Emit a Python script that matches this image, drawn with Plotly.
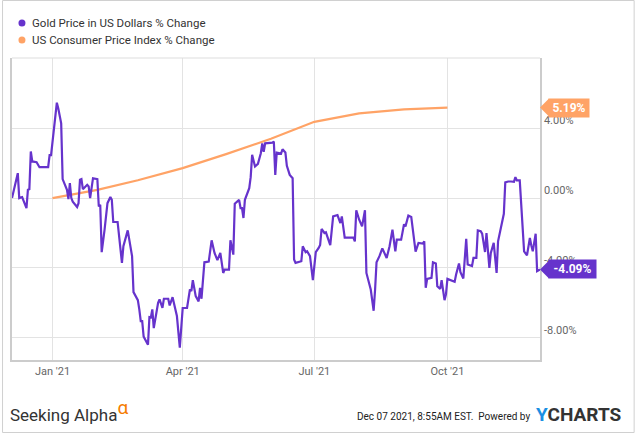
import plotly.graph_objects as go

# ---------------- data ----------------
gold_dates = [
    "2020-12-04", "2020-12-08", "2020-12-09", "2020-12-11", "2020-12-14", "2020-12-15", "2020-12-16",
    "2020-12-17", "2020-12-18", "2020-12-21", "2020-12-23", "2020-12-29", "2020-12-30", "2020-12-31",
    "2021-01-04", "2021-01-05", "2021-01-07", "2021-01-08", "2021-01-11", "2021-01-12", "2021-01-13",
    "2021-01-14", "2021-01-15", "2021-01-18", "2021-01-19", "2021-01-20", "2021-01-21", "2021-01-22",
    "2021-01-25", "2021-01-26", "2021-01-27", "2021-01-29", "2021-02-01", "2021-02-02", "2021-02-03",
    "2021-02-04", "2021-02-06", "2021-02-08", "2021-02-10", "2021-02-11", "2021-02-12", "2021-02-15",
    "2021-02-18", "2021-02-19", "2021-02-22", "2021-02-25", "2021-02-26", "2021-03-01", "2021-03-02",
    "2021-03-03", "2021-03-04", "2021-03-05", "2021-03-08", "2021-03-09", "2021-03-10", "2021-03-11",
    "2021-03-12", "2021-03-15", "2021-03-16", "2021-03-18", "2021-03-19", "2021-03-22", "2021-03-23",
    "2021-03-25", "2021-03-28", "2021-03-30", "2021-04-01", "2021-04-04", "2021-04-06", "2021-04-07",
    "2021-04-08", "2021-04-10", "2021-04-12", "2021-04-13", "2021-04-14", "2021-04-16", "2021-04-19",
    "2021-04-21", "2021-04-23", "2021-04-25", "2021-04-27", "2021-04-28", "2021-04-29", "2021-04-30",
    "2021-05-03", "2021-05-04", "2021-05-06", "2021-05-07", "2021-05-10", "2021-05-11", "2021-05-12",
    "2021-05-13", "2021-05-14", "2021-05-17", "2021-05-18", "2021-05-19", "2021-05-21", "2021-05-23",
    "2021-05-25", "2021-05-26", "2021-05-27", "2021-05-28", "2021-06-02", "2021-06-03", "2021-06-04",
    "2021-06-05", "2021-06-08", "2021-06-09", "2021-06-11", "2021-06-12", "2021-06-14", "2021-06-16",
    "2021-06-17", "2021-06-18", "2021-06-21", "2021-06-22", "2021-06-23", "2021-06-25", "2021-06-26",
    "2021-06-28", "2021-06-30", "2021-07-02", "2021-07-04", "2021-07-05", "2021-07-06", "2021-07-08",
    "2021-07-09", "2021-07-12", "2021-07-14", "2021-07-17", "2021-07-19", "2021-07-20", "2021-07-22",
    "2021-07-28", "2021-07-29", "2021-07-30", "2021-08-01", "2021-08-03", "2021-08-05", "2021-08-06",
    "2021-08-09", "2021-08-11", "2021-08-12", "2021-08-13", "2021-08-15", "2021-08-17", "2021-08-20",
    "2021-08-22", "2021-08-24", "2021-08-26", "2021-08-27", "2021-08-30", "2021-09-01", "2021-09-02",
    "2021-09-04", "2021-09-06", "2021-09-09", "2021-09-11", "2021-09-14", "2021-09-15", "2021-09-16",
    "2021-09-17", "2021-09-20", "2021-09-21", "2021-09-23", "2021-09-24", "2021-09-26", "2021-09-27",
    "2021-09-29", "2021-09-30", "2021-10-01", "2021-10-05", "2021-10-06", "2021-10-07", "2021-10-09",
    "2021-10-10", "2021-10-12", "2021-10-14", "2021-10-15", "2021-10-18", "2021-10-19", "2021-10-21",
    "2021-10-22", "2021-10-24", "2021-10-25", "2021-10-27", "2021-10-28", "2021-10-30", "2021-10-31",
    "2021-11-02", "2021-11-04", "2021-11-05", "2021-11-09", "2021-11-10", "2021-11-12", "2021-11-14",
    "2021-11-16", "2021-11-17", "2021-11-18", "2021-11-20", "2021-11-23", "2021-11-25", "2021-11-27",
    "2021-11-28", "2021-11-29", "2021-12-01", "2021-12-02", "2021-12-04",
]
gold_values = [
    0.00, 1.43, 0.00, 0.06, -0.57, 0.48, 0.51,
    2.67, 2.10, 2.06, 1.77, 1.77, 2.46, 2.46,
    5.47, 5.14, 4.29, 1.09, 0.48, -0.06, 0.86,
    0.00, -0.21, -0.51, -0.29, 1.05, 1.09, 0.51,
    0.76, 0.67, 0.00, 1.14, 1.09, -0.48, -0.38,
    -3.10, -1.81, -0.29, 0.06, -0.10, -1.37, -1.37,
    -3.71, -2.76, -1.85, -3.33, -5.39, -5.85, -6.38,
    -7.05, -7.05, -7.94, -8.40, -6.82, -6.84, -6.38,
    -7.45, -6.00, -5.81, -6.29, -5.77, -5.77, -6.15,
    -5.68, -6.76, -8.57, -6.30, -6.30, -5.24, -5.33,
    -4.70, -5.62, -5.92, -5.14, -5.77, -3.68, -3.64,
    -2.42, -3.14, -3.56, -3.14, -3.81, -4.29, -4.10,
    -4.10, -2.42, -3.24, -0.32, -0.10, -0.57, -0.57,
    -1.14, -0.10, 0.57, 1.20, 2.48, 1.81, 1.96,
    2.57, 3.14, 2.65, 3.14, 3.18, 3.24, 1.33,
    2.61, 2.55, 2.80, 2.61, 1.85, 1.33, 1.14,
    -3.52, -3.71, -3.64, -3.62, -2.76, -3.10, -3.05,
    -3.33, -4.70, -3.10, -2.86, -2.69, -1.77, -2.00,
    -1.96, -2.69, -1.05, -0.97, -1.43, -1.05, -2.27,
    -2.27, -2.48, -0.70, -1.24, -1.62, -0.70, -4.29,
    -5.24, -6.46, -5.24, -3.68, -3.33, -2.88, -3.43,
    -2.76, -1.81, -3.05, -2.38, -2.38, -1.50, -1.62,
    -1.00, -1.08, -3.07, -2.57, -2.61, -2.48, -5.14,
    -4.63, -4.57, -3.68, -3.75, -5.05, -5.20, -4.70,
    -5.85, -5.52, -4.63, -4.78, -4.80, -4.38, -3.75,
    -4.25, -4.61, -2.34, -3.81, -3.90, -3.43, -3.43,
    -1.85, -1.90, -2.04, -3.09, -2.00, -4.00, -3.14,
    -2.57, -4.29, -2.48, -0.90, 0.90, 0.95, 0.95,
    0.93, 1.20, 1.01, 1.01, -3.05, -3.28, -2.29,
    -2.72, -3.05, -2.04, -4.19, -4.09,
]

cpi_dates = ["2021-01-01", "2021-02-01", "2021-03-01", "2021-04-01", "2021-05-01",
             "2021-06-01", "2021-07-01", "2021-08-01", "2021-09-01", "2021-10-01"]
cpi_values = [0.00, 0.47, 1.02, 1.72, 2.52, 3.40, 4.37, 4.86, 5.09, 5.19]

series_names = ["Gold Price in US Dollars % Change", "US Consumer Price Index % Change"]
y_ticks = [-8, -4, 0, 4]
y_tick_labels = ["-8.00%", "-4.00%", "0.00%", "4.00%"]

# ---------------- style ----------------
PURPLE = "#6633cc"
ORANGE = "#ffa366"
FONT = "Roboto"

# plot area in pixels: left 10, right 540, top 58, bottom 360
def xp(px):
    return (px - 10) / 530.0

def yp(py):
    return (360 - py) / 302.0

fig = go.Figure()
fig.add_trace(go.Scatter(x=cpi_dates, y=cpi_values, mode="lines", name=series_names[1],
                         line=dict(color=ORANGE, width=2.2), showlegend=False, hoverinfo="skip"))
fig.add_trace(go.Scatter(x=gold_dates, y=gold_values, mode="lines", name=series_names[0],
                         line=dict(color=PURPLE, width=2.2), showlegend=False, hoverinfo="skip"))

fig.update_layout(
    width=635, height=433,
    margin=dict(l=10, r=95, t=58, b=73),
    paper_bgcolor="white", plot_bgcolor="white",
    font=dict(family=FONT, color="#666666", size=11),
    showlegend=False,
)
fig.update_xaxes(
    type="date",
    range=["2020-12-04", "2021-12-04"],
    tick0="2021-01-01", dtick="M3", tickformat="%b '%y",
    showgrid=True, gridcolor="#e3e3e3", gridwidth=1,
    showline=True, linecolor="#cccccc", linewidth=1.5, mirror=False,
    ticks="", tickfont=dict(size=11, color="#666666"),
    zeroline=False, fixedrange=True,
)
fig.update_yaxes(
    range=[-9.28, 8.03],
    side="right",
    tickmode="array", tickvals=y_ticks, ticktext=y_tick_labels,
    ticklabelposition="outside top",
    showgrid=True, gridcolor="#e3e3e3", gridwidth=1,
    showline=True, linecolor="#cccccc", linewidth=1.5, mirror=True,
    ticks="", tickfont=dict(size=11, color="#666666"),
    zeroline=False, fixedrange=True,
)

shapes = []
annotations = []

# top border of plot (light)
shapes.append(dict(type="line", xref="paper", yref="paper", x0=0, x1=1, y0=1, y1=1,
                   line=dict(color="#dddddd", width=1)))
# outer frame
shapes.append(dict(type="rect", xref="paper", yref="paper",
                   x0=xp(0.5), x1=xp(634.5), y0=yp(432.5), y1=yp(0.5),
                   line=dict(color="#d0d0d0", width=1), fillcolor="rgba(0,0,0,0)", layer="below"))

# legend (manual)
for name, col, py in [(series_names[0], PURPLE, 23), (series_names[1], ORANGE, 40)]:
    shapes.append(dict(type="circle", xref="paper", yref="paper",
                       xsizemode="pixel", ysizemode="pixel",
                       xanchor=xp(20), yanchor=yp(py),
                       x0=-3.5, x1=3.5, y0=-3.5, y1=3.5,
                       fillcolor=col, line=dict(width=0)))
    annotations.append(dict(text=name, xref="paper", yref="paper", x=xp(28), y=yp(py),
                            xanchor="left", yanchor="middle", showarrow=False,
                            font=dict(family=FONT, size=11.5, color="#333333")))

# end-value tags
for val, col, w in [(cpi_values[-1], ORANGE, 40), (gold_values[-1], PURPLE, 47)]:
    shapes.append(dict(type="path", xref="paper", yref="y",
                       xsizemode="pixel", ysizemode="pixel",
                       xanchor=1, yanchor=val,
                       path="M0,0 L9,9 L9,-9 Z",
                       fillcolor=col, line=dict(width=0)))
    annotations.append(dict(text="<b>%.2f%%</b>" % val, xref="paper", yref="y",
                            x=1, y=val, xshift=8, xanchor="left", yanchor="middle",
                            showarrow=False, bgcolor=col, borderpad=0,
                            width=w, height=18, align="center",
                            font=dict(family=FONT, size=12, color="white")))

# footer
annotations.append(dict(text="Seeking Alpha<sup><span style='color:#f57c00;font-size:19px'>α</span></sup>",
                        xref="paper", yref="paper", x=xp(6), y=yp(410),
                        xanchor="left", yanchor="middle", showarrow=False,
                        font=dict(family=FONT, size=17, color="#333333")))
annotations.append(dict(text="Dec 07 2021, 8:55AM EST.  Powered by", xref="paper", yref="paper",
                        x=xp(532), y=yp(416), xanchor="right", yanchor="middle", showarrow=False,
                        font=dict(family=FONT, size=10, color="#222222")))
annotations.append(dict(text="<b><span style='color:#1a8fe3'>Y</span>CHARTS</b>", xref="paper", yref="paper",
                        x=xp(534), y=yp(414), xanchor="left", yanchor="middle", showarrow=False,
                        font=dict(family=FONT, size=19, color="#333333")))

fig.update_layout(shapes=shapes, annotations=annotations)

fig.write_html("out.html")
